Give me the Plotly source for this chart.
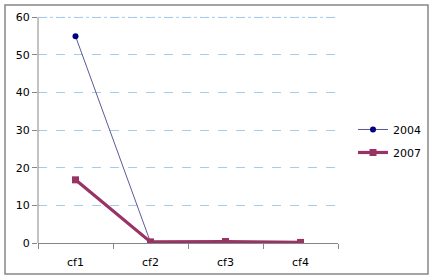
import plotly.graph_objects as go

categories = ["cf1", "cf2", "cf3", "cf4"]
series_2004 = [55.0, 0.2, 0.3, 0.1]
series_2007 = [16.8, 0.3, 0.4, 0.15]
y_ticks = [0, 10, 20, 30, 40, 50, 60]

grid_color = "#a6caf0"
y_top = 60.9

fig = go.Figure()
fig.add_trace(go.Scatter(
    x=categories, y=series_2004, name="2004", mode="lines+markers",
    legendgroup="a",
    line=dict(color="#5a5a96", width=1),
    marker=dict(color="#000080", size=6, symbol="circle"),
))
fig.add_trace(go.Scatter(
    x=categories, y=series_2007, name="2007", mode="lines+markers",
    legendgroup="b",
    line=dict(color="#993366", width=3.2),
    marker=dict(color="#993366", size=7, symbol="square"),
))

font = dict(family="DejaVu Sans", size=11, color="#000000")
fig.update_layout(
    width=435, height=280,
    margin=dict(l=38, r=97, t=14, b=37, autoexpand=False),
    paper_bgcolor="white", plot_bgcolor="white",
    font=font,
    showlegend=True,
    legend=dict(x=1.05, y=0.559, xanchor="left", yanchor="top",
                font=dict(family="DejaVu Sans", size=11), bgcolor="rgba(0,0,0,0)",
                itemwidth=30, tracegroupgap=4),
    xaxis=dict(type="category", range=[-0.5, 3.5], showline=True, linecolor="#868686",
               linewidth=1, ticks="outside", tickson="boundaries", ticklen=5,
               tickcolor="#868686", showgrid=False, zeroline=False, fixedrange=True,
               ticklabelstandoff=9, automargin=False),
    yaxis=dict(range=[0, y_top], tickvals=y_ticks, showline=False,
               ticks="outside", ticklen=5, tickcolor="#868686",
               showgrid=True, gridcolor=grid_color, griddash="dash", gridwidth=1,
               zeroline=False, fixedrange=True, automargin=False),
    shapes=[
        dict(type="rect", xref="paper", yref="paper",
             x0=-0.11, x1=1.3, y0=-0.1354, y1=1.0393,
             line=dict(color="#868686", width=1.5), fillcolor="rgba(0,0,0,0)"),
        # y-axis line from 0 up to the top tick only
        dict(type="line", xref="paper", yref="paper", layer="above",
             x0=0, x1=0, y0=0, y1=y_ticks[-1] / y_top,
             line=dict(color="#868686", width=1)),
        # top gridline
        dict(type="line", xref="paper", yref="paper", layer="above",
             x0=0, x1=1, y0=y_ticks[-1] / y_top, y1=y_ticks[-1] / y_top,
             line=dict(color=grid_color, width=1, dash="3px,3px")),
    ],
)
fig.write_html("out.html")
